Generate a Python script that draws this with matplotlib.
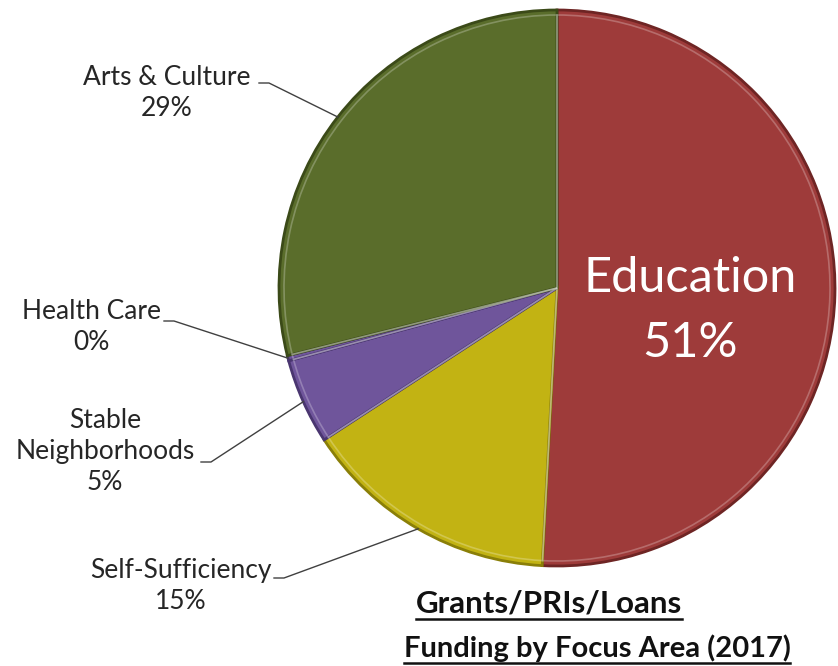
import matplotlib.pyplot as plt
import numpy as np
from matplotlib.lines import Line2D

plt.rcParams['font.family'] = ['Lato', 'DejaVu Sans']

W, H = 838, 666

# slice data, clockwise from 12 o'clock
labels = ['Education', 'Self-Sufficiency', 'Stable\nNeighborhoods', 'Health Care', 'Arts & Culture']
shares = [51, 15, 5, 0.3, 29]
pct_text = ['51%', '15%', '5%', '0%', '29%']
colors = ['#9e3b3a', '#c2b313', '#6f559b', '#6f559b', '#5a6d2b']
edges = ['#6e2524', '#8a7f08', '#4a3670', '#4a3670', '#3b4a18']

# label anchors (pixels from top-left)
label_pos = {
    'Arts & Culture': (167, 93),
    'Health Care': (91, 327),
    'Stable\nNeighborhoods': (105, 452),
    'Self-Sufficiency': (181, 586),
}
leader_start = {
    'Arts & Culture': (259, 83),
    'Health Care': (164, 321),
    'Stable\nNeighborhoods': (201, 462),
    'Self-Sufficiency': (274, 578),
}

cx, cy, r = 557, 288, 278

fig = plt.figure(figsize=(W / 100, H / 100), dpi=100)
ax = fig.add_axes([0, 0, 1, 1])

wedges, _ = ax.pie(shares, colors=colors, startangle=90, counterclock=False,
                   center=(cx, H - cy), radius=r, frame=True,
                   wedgeprops=dict(linewidth=2.0))
for w, ec in zip(wedges, edges):
    w.set_edgecolor(ec)

# inner highlight to hint at the bevel
ax.pie(shares, colors=['none'] * 5, startangle=90, counterclock=False,
       center=(cx, H - cy), radius=r - 5, frame=True,
       wedgeprops=dict(linewidth=1.2, edgecolor=(1, 1, 1, 0.25), fill=False))

ax.set_xlim(0, W)
ax.set_ylim(0, H)
ax.set_aspect('equal')
ax.axis('off')

txtc = '#262626'
for w, lab, pct in zip(wedges, labels, pct_text):
    if lab == 'Education':
        ax.text(690, H - 278, lab, ha='center', va='center', color='white',
                fontsize=35)
        ax.text(690, H - 343, pct, ha='center', va='center', color='white',
                fontsize=35)
        continue
    lx, ly = label_pos[lab]
    ax.text(lx, H - ly, lab + '\n' + pct, ha='center', va='center',
            color=txtc, fontsize=19, linespacing=1.3)
    mid = np.deg2rad((w.theta1 + w.theta2) / 2)
    ex, ey = cx + r * np.cos(mid), (H - cy) + r * np.sin(mid)
    sx, sy = leader_start[lab]
    ax.add_line(Line2D([sx, sx + 10, ex], [H - sy, H - sy, ey],
                       color='#404040', linewidth=1.0))

# underlined title lines (x centre, baseline y, size)
title_lines = [('Grants/PRIs/Loans', 549, 613, 22.5), ('Funding by Focus Area (2017)', 597, 657, 21)]
fig.canvas.draw()
renderer = fig.canvas.get_renderer()
for s, tx, ty, fs in title_lines:
    t = ax.text(tx, H - ty, s, ha='center', va='baseline', fontsize=fs,
                fontweight='bold', color='#111111')
    bb = t.get_window_extent(renderer=renderer)
    x0, x1 = ax.transData.inverted().transform([[bb.x0, 0], [bb.x1, 0]])[:, 0]
    base = H - ty - 6
    ax.add_line(Line2D([x0, x1], [base, base], color='#111111', linewidth=1.8))

fig.savefig('out.png', dpi=100)
